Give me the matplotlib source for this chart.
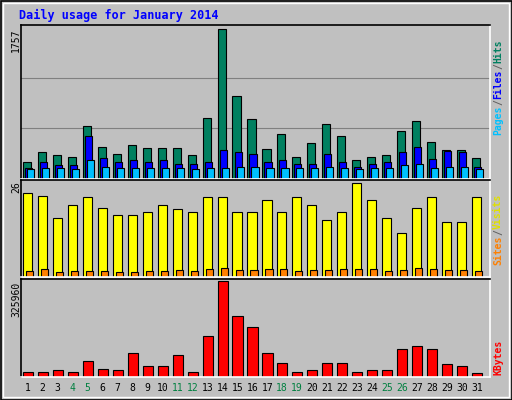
import matplotlib
matplotlib.use("Agg")
import matplotlib.pyplot as plt
import numpy as np

days = list(range(1, 32))
weekend = [4, 5, 11, 12, 18, 19, 25, 26]
hits_y = [160,150,153,155,125,145,152,143,146,146,146,153,117,29,95,118,147,133,155,141,123,135,158,155,153,130,120,140,148,148,156]
files_y = [166,160,163,163,135,156,160,158,160,158,162,162,160,148,150,152,160,158,162,162,152,160,165,162,160,150,145,157,149,150,165]
pages_y = [167,166,166,167,158,165,166,166,166,166,166,167,166,166,165,165,166,166,166,166,165,166,167,166,166,163,162,166,165,165,167]
visits_y = [194,197,218,205,198,208,215,215,212,205,209,212,198,198,212,212,201,212,198,205,220,212,184,201,218,233,208,198,222,222,198]
sites_y = [270,268,271,270,270,270,271,271,270,270,269,270,268,267,269,269,268,268,270,269,269,268,268,268,270,269,267,268,269,269,270]
kb_y = [370,370,368,370,360,367,368,352,365,365,354,370,336,284,317,328,352,362,370,368,362,362,370,368,368,348,346,348,363,365,371]

hits = [(177-y)/150*1757 for y in hits_y]
files = [(177-y)/150*1757 for y in files_y]
pages = [(177-y)/150*1757 for y in pages_y]
visits = [(276-y)/94*26 for y in visits_y]
sites = [(276-y)/94*26 for y in sites_y]
kbytes = [(375-y)/91*325960 for y in kb_y]

W, H = 512, 400
fig = plt.figure(figsize=(W/100, H/100), dpi=100)
fig.patch.set_facecolor('#C0C0C0')
fig.patches.append(plt.Rectangle((0.5/W, 0.5/H), 1-1/W, 1-1/H, transform=fig.transFigure,
                                 fill=False, edgecolor='black', lw=1.2))
fig.patches.append(plt.Rectangle((3/W, 3/H), 1-6/W, 1-6/H, transform=fig.transFigure,
                                 fill=False, edgecolor='white', lw=1.0))
mono = 'DejaVu Sans Mono'
fig.text(19/W, 1-15/H, 'Daily usage for January 2014', color='#0000FF', fontsize=8.5,
         fontweight='bold', family=mono, va='center')

def pax(top, bot):
    ax = fig.add_axes([21/W, 1-bot/H, 469/W, (bot-top)/H])
    ax.set_facecolor('#C0C0C0')
    ax.set_xlim(0.55, 31.85)
    ax.set_xticks([]); ax.set_yticks([])
    for k, s in ax.spines.items():
        s.set_color('black' if k in ('top', 'left') else 'white')
        s.set_linewidth(1.2)
    return ax

sc = 1/14.9
x = np.array(days)
ax1 = pax(25, 179)
ax1.set_ylim(0, 1757*152/150)
for g in [1757/3, 2*1757/3]:
    ax1.axhline(g, color='#808080', lw=0.8, zorder=0)
ax1.bar(x-5*sc, hits, width=8*sc, align='edge', color='#008060', edgecolor='black', lw=0.8)
ax1.bar(x-3*sc, files, width=7*sc, align='edge', color='#0000FF', edgecolor='black', lw=0.8)
ax1.bar(x-1*sc, pages, width=7*sc, align='edge', color='#00C0FF', edgecolor='black', lw=0.8)

ax2 = pax(180, 277)
ax2.set_ylim(0, 26*95/94)
ax2.bar(x-5*sc, visits, width=9*sc, align='edge', color='#FFFF00', edgecolor='black', lw=0.8)
ax2.bar(x-2*sc, sites, width=7*sc, align='edge', color='#FF8000', edgecolor='black', lw=0.8)

ax3 = pax(279, 377)
ax3.set_ylim(0, 325960*93/91)
ax3.bar(x-5*sc, kbytes, width=10*sc, align='edge', color='#FF0000', edgecolor='black', lw=0.8)

for d in days:
    fig.text((21+(d-0.55)*14.97)/W, 1-388/H, str(d), ha='center', va='center', fontsize=7,
             family=mono, color='#008040' if d in weekend else 'black')

fig.text(16/W, 1-28/H, '1757', rotation=90, ha='center', va='top', fontsize=7, family=mono)
fig.text(16/W, 1-181/H, '26', rotation=90, ha='center', va='top', fontsize=7, family=mono)
fig.text(16/W, 1-282/H, '325960', rotation=90, ha='center', va='top', fontsize=7, family=mono)

def rlabel(parts, ybot):
    y = ybot
    for t, c in parts:
        fig.text(498/W, 1-y/H, t, rotation=90, ha='center', va='bottom', fontsize=7,
                 family=mono, fontweight='bold', color=c)
        y -= len(t)*6.0
rlabel([('Pages', '#00C0FF'), ('/', '#606060'), ('Files', '#0000FF'), ('/', '#606060'), ('Hits', '#008060')], 135)
rlabel([('Sites', '#FF8000'), ('/', '#606060'), ('Visits', '#E0E000')], 265)
rlabel([('KBytes', '#FF0000')], 375)

fig.savefig('out.png', dpi=100, facecolor=fig.get_facecolor())
